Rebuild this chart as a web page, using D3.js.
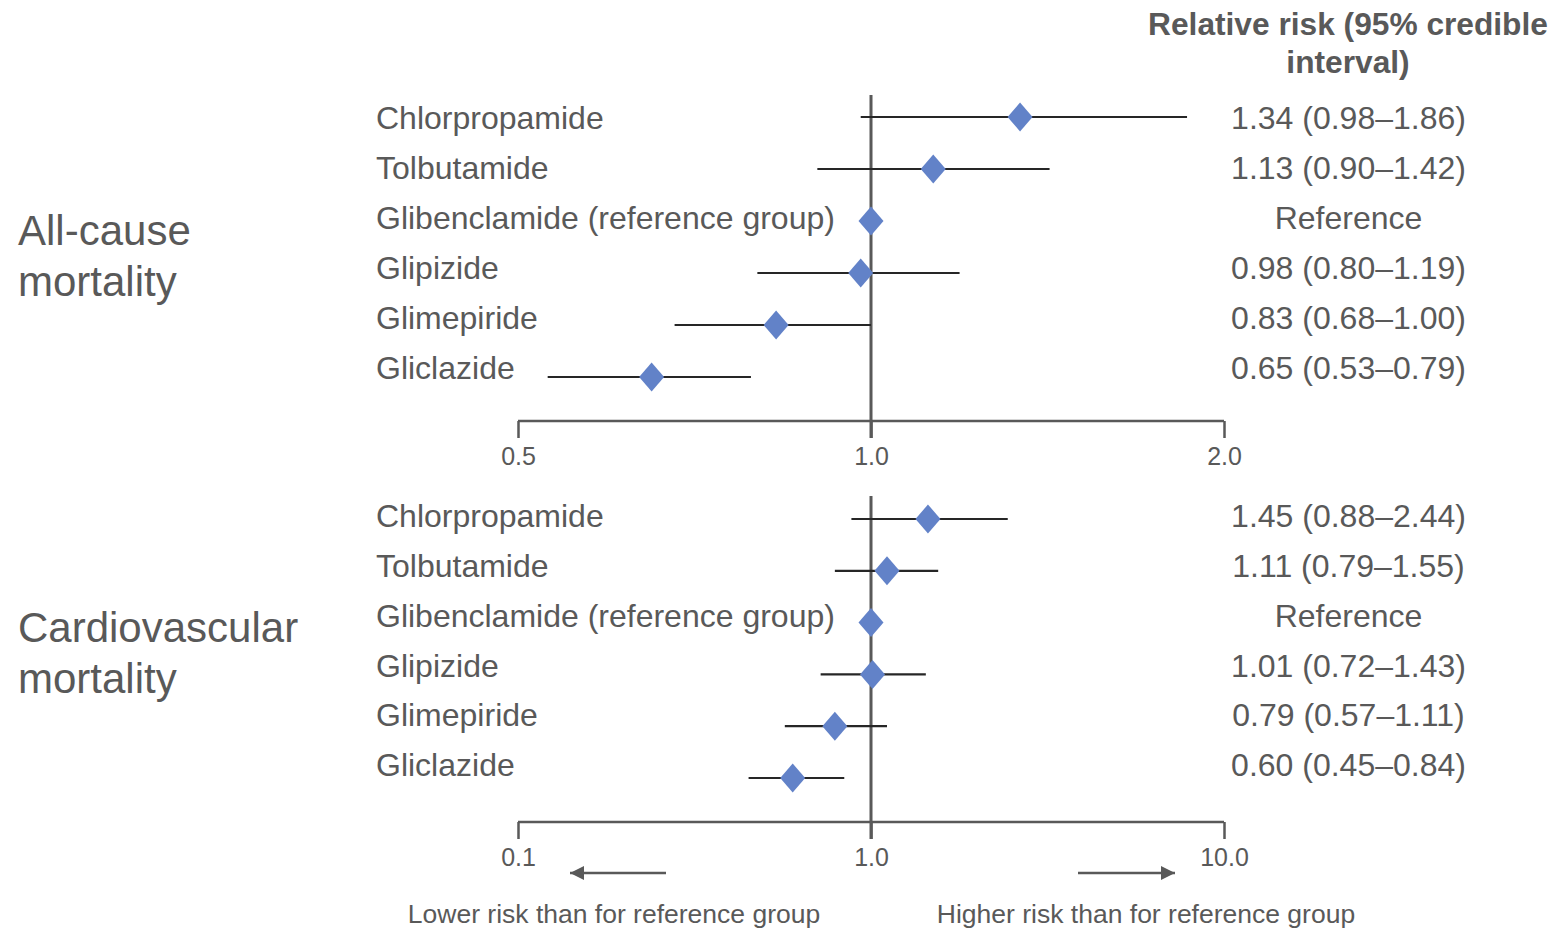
<!DOCTYPE html>
<html><head><meta charset="utf-8">
<script src="https://cdn.jsdelivr.net/npm/d3@7"></script>
<style>body{margin:0;background:#fff}svg{display:block}text{font-family:"Liberation Sans",Arial,sans-serif}</style>
</head><body><svg id="c" width="1555" height="928"></svg>
<script>
const drugs = ["Chlorpropamide","Tolbutamide","Glibenclamide (reference group)","Glipizide","Glimepiride","Gliclazide"];
const allCauseRR = [1.34,1.13,1.00,0.98,0.83,0.65];
const allCauseLo = [0.98,0.90,null,0.80,0.68,0.53];
const allCauseHi = [1.86,1.42,null,1.19,1.00,0.79];
const allCauseText = ["1.34 (0.98–1.86)","1.13 (0.90–1.42)","Reference","0.98 (0.80–1.19)","0.83 (0.68–1.00)","0.65 (0.53–0.79)"];
const cvRR = [1.45,1.11,1.00,1.01,0.79,0.60];
const cvLo = [0.88,0.79,null,0.72,0.57,0.45];
const cvHi = [2.44,1.55,null,1.43,1.11,0.84];
const cvText = ["1.45 (0.88–2.44)","1.11 (0.79–1.55)","Reference","1.01 (0.72–1.43)","0.79 (0.57–1.11)","0.60 (0.45–0.84)"];
const allCauseTicks = [0.5,1.0,2.0];
const cvTicks = [0.1,1.0,10.0];
const groupLabels = [["All-cause","mortality"],["Cardiovascular","mortality"]];
const headerLines = ["Relative risk (95% credible","interval)"];
const noteLeft = "Lower risk than for reference group";
const noteRight = "Higher risk than for reference group";

const svg = d3.select("#c");
const gray = "#595959", dark = "#262626", blue = "#6282C8";

svg.append("text").attr("x",1348).attr("y",35).attr("text-anchor","middle")
  .attr("font-size",31.7).attr("font-weight","bold").attr("fill",gray).text(headerLines[0]);
svg.append("text").attr("x",1348).attr("y",73).attr("text-anchor","middle")
  .attr("font-size",31.7).attr("font-weight","bold").attr("fill",gray).text(headerLines[1]);

const panels = [
  {rr:allCauseRR, lo:allCauseLo, hi:allCauseHi, txt:allCauseText, ticks:allCauseTicks, dom:[0.5,2],
   labY:[118,368], mkY:[117,377], axisY:421, vTop:95, grp:groupLabels[0], grpY:[230,281]},
  {rr:cvRR, lo:cvLo, hi:cvHi, txt:cvText, ticks:cvTicks, dom:[0.1,10],
   labY:[516,765], mkY:[519,778], axisY:822, vTop:496, grp:groupLabels[1], grpY:[627,678]}
];

const diamond = (w,h) => `M0,${-h}L${w},0L0,${h}L${-w},0Z`;

panels.forEach(p => {
  const x = d3.scaleLog().domain(p.dom).range([518,1224]);
  const yl = d3.scalePoint().domain(drugs).range(p.labY);
  const ym = d3.scalePoint().domain(drugs).range(p.mkY);
  const g = svg.append("g");

  p.grp.forEach((t,i)=>{
    g.append("text").attr("x",18).attr("y",p.grpY[i]).attr("dy","0.35em")
     .attr("font-size",42).attr("fill",gray).text(t);
  });
  g.selectAll(".lab").data(drugs).join("text")
    .attr("x",376).attr("y",d=>yl(d)).attr("dy","0.35em")
    .attr("font-size",32).attr("fill",gray).text(d=>d);
  g.selectAll(".val").data(p.txt).join("text")
    .attr("x",1348.5).attr("y",(d,i)=>yl(drugs[i])).attr("dy","0.35em").attr("text-anchor","middle")
    .attr("font-size",32).attr("fill",gray).text(d=>d);

  const ax = g.append("g").attr("transform",`translate(0,${p.axisY})`)
    .call(d3.axisBottom(x).tickValues(p.ticks).tickFormat(d3.format(".1f")).tickSize(17).tickPadding(9));
  ax.select(".domain").attr("stroke",gray).attr("stroke-width",2.5)
    .attr("d",`M518,0H1224`);
  ax.selectAll(".tick line").attr("stroke",gray).attr("stroke-width",2.5);
  ax.selectAll(".tick text").attr("font-size",25).attr("fill",gray)
    .attr("font-family","Liberation Sans, Arial, sans-serif");

  g.append("line").attr("x1",x(1)).attr("x2",x(1)).attr("y1",p.vTop).attr("y2",p.axisY+17)
    .attr("stroke",gray).attr("stroke-width",3);

  const ci = drugs.map((d,i)=>({d, lo:p.lo[i], hi:p.hi[i], rr:p.rr[i]}));
  g.selectAll(".ci").data(ci.filter(c=>c.lo!=null)).join("line")
    .attr("x1",c=>x(c.lo)).attr("x2",c=>x(c.hi)).attr("y1",c=>ym(c.d)).attr("y2",c=>ym(c.d))
    .attr("stroke",dark).attr("stroke-width",2.2);
  g.selectAll(".mk").data(ci).join("path")
    .attr("transform",c=>`translate(${x(c.rr)},${ym(c.d)})`)
    .attr("d",diamond(12.5,14.5)).attr("fill",blue);
});

const defs = svg.append("defs");
defs.append("marker").attr("id","ah").attr("viewBox","0 0 10 10").attr("refX",10).attr("refY",5)
  .attr("markerUnits","userSpaceOnUse").attr("markerWidth",18).attr("markerHeight",14).attr("orient","auto")
  .append("path").attr("d","M0,0L10,5L0,10Z").attr("fill",gray);
svg.append("line").attr("x1",666).attr("x2",570).attr("y1",873).attr("y2",873)
  .attr("stroke",gray).attr("stroke-width",2.5).attr("marker-end","url(#ah)");
svg.append("line").attr("x1",1078).attr("x2",1175).attr("y1",873).attr("y2",873)
  .attr("stroke",gray).attr("stroke-width",2.5).attr("marker-end","url(#ah)");

svg.append("text").attr("x",614).attr("y",914).attr("dy","0.35em").attr("text-anchor","middle")
  .attr("font-size",26.5).attr("fill",gray).text(noteLeft);
svg.append("text").attr("x",1146).attr("y",914).attr("dy","0.35em").attr("text-anchor","middle")
  .attr("font-size",26.5).attr("fill",gray).text(noteRight);
</script></body></html>
